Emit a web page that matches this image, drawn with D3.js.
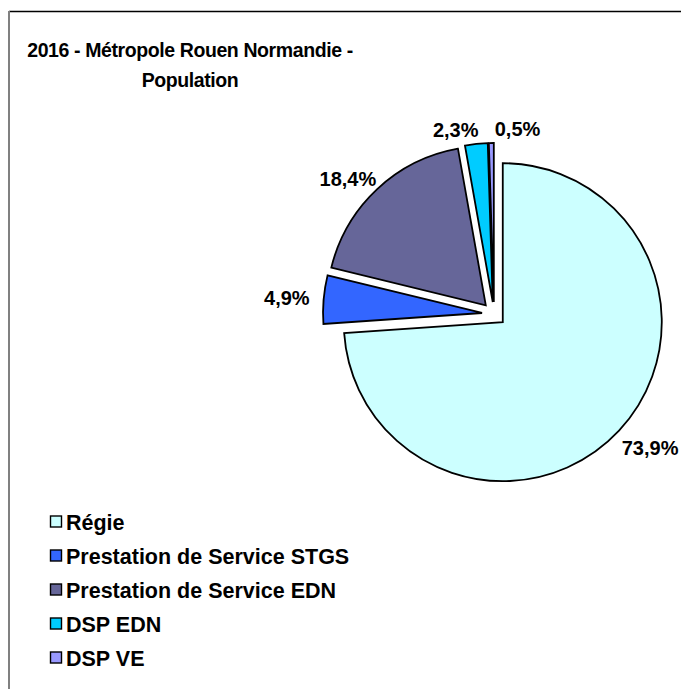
<!DOCTYPE html>
<html>
<head>
<meta charset="utf-8">
<script src="https://cdn.jsdelivr.net/npm/d3@7"></script>
<style>
  body { margin: 0; background: #fff; }
  text { font-family: "Liberation Sans", Arial, sans-serif; font-weight: bold; fill: #000; }
</style>
</head>
<body>
<svg></svg>
<script>
var width = 681, height = 689;

// data
var categories = ["Régie", "Prestation de Service STGS", "Prestation de Service EDN", "DSP EDN", "DSP VE"];
var shares = [73.9, 4.9, 18.4, 2.3, 0.5];
var colors = ["#CCFFFF", "#3366FF", "#666699", "#00CCFF", "#9999FF"];
var titleLines = ["2016 - Métropole Rouen Normandie -", "Population"];

var cx = 494, cy = 314, radius = 159, explode = 12, labelGap = 14;

var svg = d3.select("svg")
    .attr("width", width)
    .attr("height", height);

// frame of the chart area (clipped by the window on the right / bottom)
svg.append("line")
    .attr("x1", 9).attr("x2", width).attr("y1", 11.5).attr("y2", 11.5)
    .attr("stroke", "#000").attr("stroke-width", 1.5);
svg.append("line")
    .attr("x1", 9).attr("x2", 9).attr("y1", 11).attr("y2", height)
    .attr("stroke", "#808080").attr("stroke-width", 2);

// title
var title = svg.append("text")
    .attr("text-anchor", "middle")
    .style("font-size", "19.5px")
    .style("letter-spacing", "-0.4px");
title.selectAll("tspan")
    .data(titleLines)
    .enter().append("tspan")
    .attr("x", 190)
    .attr("y", function(d, i) { return 57 + i * 30; })
    .text(function(d) { return d; });

var data = categories.map(function(c, i) { return {name: c, value: shares[i], color: colors[i]}; });

var pie = d3.pie()
    .sort(null)
    .value(function(d) { return d.value; });

var arc = d3.arc()
    .innerRadius(0)
    .outerRadius(radius);

var arcs = pie(data);

function offset(d) {
    var a = (d.startAngle + d.endAngle) / 2;
    return [Math.sin(a) * explode, -Math.cos(a) * explode];
}

var g = svg.append("g")
    .attr("transform", "translate(" + cx + "," + cy + ")");

g.selectAll(".slice")
    .data(arcs)
    .enter().append("path")
    .attr("class", "slice")
    .attr("transform", function(d) { var o = offset(d); return "translate(" + o[0] + "," + o[1] + ")"; })
    .attr("d", arc)
    .attr("fill", function(d) { return d.data.color; })
    .attr("stroke", "#000")
    .attr("stroke-width", 1.8)
    .attr("stroke-linejoin", "miter");

// labels outside end
var fmt = function(v) { return v.toFixed(1).replace(".", ",") + "%"; };

var labels = g.selectAll(".lbl")
    .data(arcs)
    .enter().append("text")
    .attr("class", "lbl")
    .attr("text-anchor", "middle")
    .attr("dy", "0.35em")
    .style("font-size", "20px")
    .text(function(d) { return fmt(d.data.value); });

var boxes = [];
labels.each(function(d) {
    var bb = this.getBBox();
    var a = (d.startAngle + d.endAngle) / 2;
    var o = offset(d);
    var r = radius + labelGap;
    var c = Math.cos(a);
    boxes.push({
        node: this,
        w: bb.width,
        h: bb.height,
        x: o[0] + Math.sin(a) * (r + bb.width / 2),
        y: o[1] - c * (r + (c < 0 ? bb.height / 2 : 0))
    });
});

// spread labels that overlap (the two small slices at the top)
for (var i = 1; i < boxes.length; i++) {
    var p = boxes[i - 1], b = boxes[i];
    var need = (p.w + b.w) / 2 + 16;
    if (Math.abs(p.y - b.y) < b.h && Math.abs(b.x - p.x) < need) {
        var mid = (p.x + b.x) / 2 + 5;
        p.x = mid - need / 2;
        b.x = mid + need / 2;
    }
}
boxes.forEach(function(b) {
    d3.select(b.node).attr("x", b.x).attr("y", b.y);
});

// legend
var legend = svg.append("g")
    .attr("transform", "translate(50,522)");

var item = legend.selectAll(".item")
    .data(data)
    .enter().append("g")
    .attr("class", "item")
    .attr("transform", function(d, i) { return "translate(0," + i * 34 + ")"; });

item.append("rect")
    .attr("x", 0.5).attr("y", -6)
    .attr("width", 11).attr("height", 11)
    .attr("fill", function(d) { return d.color; })
    .attr("stroke", "#000")
    .attr("stroke-width", 1.4);

item.append("text")
    .attr("x", 16)
    .attr("dy", "0.35em")
    .style("font-size", "21.5px")
    .text(function(d) { return d.name; });
</script>
</body>
</html>
